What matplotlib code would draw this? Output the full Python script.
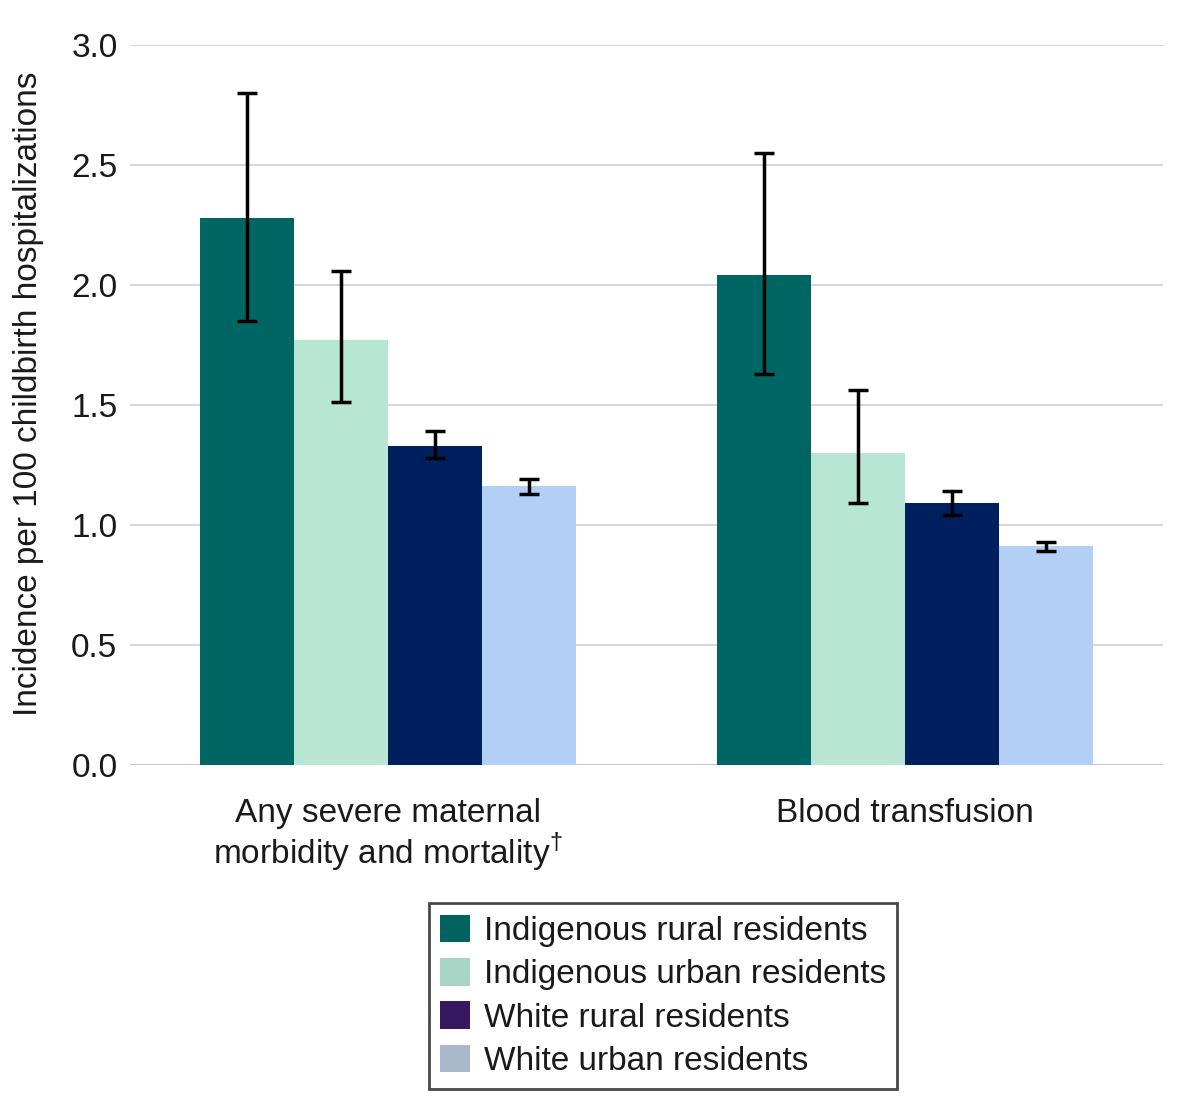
import matplotlib
matplotlib.use("Agg")
import matplotlib.pyplot as plt
from matplotlib.patches import Patch
import numpy as np

plt.rcParams['font.family'] = ['Liberation Sans', 'DejaVu Sans']
plt.rcParams['mathtext.fontset'] = 'custom'
plt.rcParams['mathtext.rm'] = 'Liberation Sans'

categories = ["Any severe maternal\nmorbidity and mortality$^{\u2020}$", "Blood transfusion"]
series = ["Indigenous rural residents", "Indigenous urban residents",
          "White rural residents", "White urban residents"]
values = [[2.28, 2.04], [1.77, 1.30], [1.33, 1.09], [1.16, 0.91]]
ci_low = [[1.85, 1.63], [1.51, 1.09], [1.28, 1.04], [1.13, 0.89]]
ci_high = [[2.80, 2.55], [2.06, 1.56], [1.39, 1.14], [1.19, 0.93]]
bar_colors = ["#006663", "#b8e6d5", "#001f5f", "#b4cff5"]
legend_colors = ["#006360", "#a8d5c6", "#35185f", "#aab8cc"]
yticks = [0.0, 0.5, 1.0, 1.5, 2.0, 2.5, 3.0]

FS = 24
fig = plt.figure(figsize=(12, 11.02), dpi=100)
ax = fig.add_axes([0.1083, 0.306, 0.8607, 0.6532])

x = np.arange(len(categories))
width = 0.182
for i, s in enumerate(series):
    pos = x + (i - 1.5) * width
    v = np.array(values[i])
    lo = v - np.array(ci_low[i])
    hi = np.array(ci_high[i]) - v
    ax.bar(pos, v, width, color=bar_colors[i], zorder=2)
    ax.errorbar(pos, v, yerr=[lo, hi], fmt='none', ecolor='black',
                elinewidth=2.5, capsize=7, capthick=2.5, zorder=3)

ax.set_xlim(-0.5, 1.5)
ax.set_ylim(0, 3.0)
ax.set_yticks(yticks)
ax.set_yticklabels([f"{t:.1f}" for t in yticks])
ax.set_xticks(x)
ax.set_xticklabels(categories, linespacing=1.05)
ax.tick_params(axis='both', length=0, labelsize=FS, colors='#1a1a1a')
ax.tick_params(axis='x', pad=24)
ax.tick_params(axis='y', pad=9)
for sp in ax.spines.values():
    sp.set_visible(False)
ax.yaxis.grid(True, color='#d9d9d9', linewidth=1.5, zorder=0)
ax.axhline(0, color='#c8c8c8', linewidth=2, zorder=1)
ax.set_axisbelow(True)
ax.set_ylabel("Incidence per 100 childbirth hospitalizations", fontsize=FS, color='#1a1a1a')
ax.yaxis.set_label_coords(-0.083, 0.515)

handles = [Patch(facecolor=c, edgecolor='none') for c in legend_colors]
leg = fig.legend(handles, series, loc='upper center', bbox_to_anchor=(0.5525, 0.1806),
                 fontsize=FS, frameon=True, fancybox=False, edgecolor='#1a1a1a',
                 handlelength=0.9, handleheight=0.9, handletextpad=0.4,
                 labelspacing=0.33, borderpad=0.35, borderaxespad=0)
leg.get_frame().set_linewidth(2)
for t in leg.get_texts():
    t.set_color('#1a1a1a')

fig.savefig("out.png", dpi=100, facecolor='white')
